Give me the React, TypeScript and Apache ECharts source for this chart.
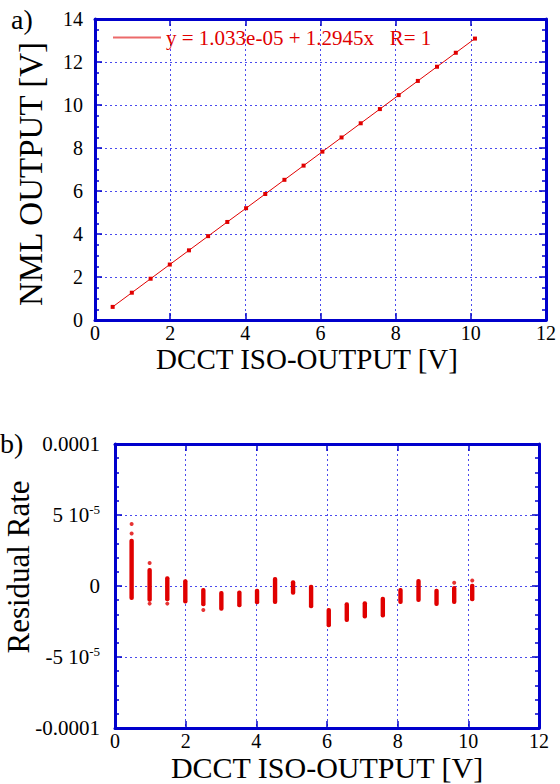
import React, { useEffect, useRef } from "react";
import * as echarts from "echarts";

// ---------- data ----------
const xValues = [0.47, 0.98, 1.48, 1.99, 2.5, 3.01, 3.52, 4.02, 4.53, 5.04, 5.55, 6.05, 6.56, 7.07, 7.58, 8.08, 8.59, 9.1, 9.6, 10.11];
const nmlOutput = [0.61, 1.27, 1.92, 2.58, 3.24, 3.9, 4.56, 5.2, 5.86, 6.52, 7.18, 7.83, 8.49, 9.15, 9.81, 10.46, 11.12, 11.78, 12.43, 13.09];
// residual cluster extents (lower / upper)
const residualLow = [-9.2e-6, -10.3e-6, -10.1e-6, -11.7e-6, -13.6e-6, -16.7e-6, -14.3e-6, -12.2e-6, -12.0e-6, -5.5e-6, -15.0e-6, -28.4e-6, -24.6e-6, -22.1e-6, -21.4e-6, -12.0e-6, -10.6e-6, -13.4e-6, -12.0e-6, -10.1e-6];
const residualHigh = [32.6e-6, 12.0e-6, 6.1e-6, 4.0e-6, -2.1e-6, -4.2e-6, -3.8e-6, -2.6e-6, 5.6e-6, 3.4e-6, 0.2e-6, -16.2e-6, -12.2e-6, -11.5e-6, -8.2e-6, -2.1e-6, 4.2e-6, -2.6e-6, -0.7e-6, 0.9e-6];
// isolated residual points
const outlierX = [0.47, 0.47, 0.98, 0.98, 1.48, 2.5, 9.6, 10.11];
const outlierY = [43.7e-6, 36.9e-6, 16.2e-6, -12.4e-6, -12.4e-6, -16.9e-6, 2.3e-6, 3.8e-6];
const fitLabel = "y = 1.033e-05 + 1.2945x\u00a0\u00a0\u00a0R= 1";
const residualTickLabels = ["{n|-0.0001}", "{n|-5 10}{sup|-5}", "{n|0}", "{n|5 10}{sup|-5}", "{n|0.0001}"];

const FONT = "Liberation Serif, Times New Roman, serif";
const AXIS = "#0000cc";
const GRID = "#4a4aee";
const RED = "#e00000";

function mainX(gridIndex: number, name: string, nameGap: number, pad: number[], nameSize: number, nameLH: number) {
  return {
    type: "value",
    gridIndex,
    min: 0,
    max: 12,
    interval: 2,
    position: "bottom",
    name,
    nameLocation: "middle",
    nameGap,
    nameMoveOverlap: false,
    nameTextStyle: { fontFamily: FONT, fontSize: nameSize, lineHeight: nameLH, color: "#000", padding: pad },
    axisLine: { show: true, onZero: false, lineStyle: { color: AXIS, width: 3 } },
    axisTick: { show: true, inside: true, length: 7, lineStyle: { color: AXIS, width: 1.5 } },
    axisLabel: { fontFamily: FONT, fontSize: 20, lineHeight: 20, color: "#000", margin: 3 },
    splitLine: { show: true, lineStyle: { color: GRID, width: 1, type: [2, 3] } },
  };
}
function topX(gridIndex: number) {
  return {
    type: "value",
    gridIndex,
    min: 0,
    max: 12,
    interval: 2,
    position: "top",
    axisLine: { show: true, onZero: false, lineStyle: { color: AXIS, width: 3 } },
    axisTick: { show: true, inside: true, length: 7, lineStyle: { color: AXIS, width: 1.5 } },
    axisLabel: { show: false },
    splitLine: { show: false },
  };
}

export default function App() {
  const ref = useRef<HTMLDivElement>(null);
  useEffect(() => {
    if (!ref.current) return;
    const chart = echarts.init(ref.current, null, { renderer: "svg" });
    const line = xValues.map((x, i) => [x, nmlOutput[i]]);
    const clusters = xValues.map((x, i) => [x, residualLow[i], residualHigh[i]]);
    const outliers = outlierX.map((x, i) => [x, outlierY[i]]);

    const yTopCommon = {
      type: "value",
      gridIndex: 0,
      min: 0,
      max: 14,
      interval: 2,
      axisLine: { show: true, onZero: false, lineStyle: { color: AXIS, width: 3 } },
      axisTick: { show: true, inside: true, length: 7, lineStyle: { color: AXIS, width: 1.5 } },
      minorTick: { show: true, splitNumber: 4, length: 4, lineStyle: { color: AXIS, width: 1.5 } },
    };
    const yBotCommon = {
      type: "value",
      gridIndex: 1,
      min: -0.0001,
      max: 0.0001,
      interval: 0.00005,
      axisLine: { show: true, onZero: false, lineStyle: { color: AXIS, width: 3 } },
      axisTick: { show: true, inside: true, length: 7, lineStyle: { color: AXIS, width: 1.5 } },
      minorTick: { show: true, splitNumber: 5, length: 4, lineStyle: { color: AXIS, width: 1.5 } },
    };

    chart.setOption({
      animation: false,
      backgroundColor: "#fff",
      grid: [
        { left: 95, top: 19, width: 451, height: 301, containLabel: false, outerBoundsMode: "none" },
        { left: 115, top: 444, width: 424, height: 284, containLabel: false, outerBoundsMode: "none" },
      ],
      legend: {
        left: 113,
        top: 27,
        padding: 0,
        itemWidth: 48,
        itemHeight: 2,
        data: [{ name: fitLabel, icon: "rect", itemStyle: { color: "#ec6a6a" } }],
        textStyle: { fontFamily: FONT, fontSize: 21, color: RED },
      },
      xAxis: [
        mainX(0, "DCCT ISO-OUTPUT [V]", 24, [0, 27, 0, 0], 29, 29),
        topX(0),
        mainX(1, "DCCT ISO-OUTPUT [V]", 25, [0, 0, 0, 0], 30, 28),
        topX(1),
      ],
      yAxis: [
        {
          ...yTopCommon,
          position: "left",
          name: "NML OUTPUT [V]",
          nameLocation: "middle",
          nameGap: 48,
          nameMoveOverlap: false,
          nameTextStyle: { fontFamily: FONT, fontSize: 33, color: "#000", padding: [0, 9, 0, 0] },
          axisLabel: { fontFamily: FONT, fontSize: 20, color: "#000", margin: 12 },
          splitLine: { show: true, lineStyle: { color: GRID, width: 1, type: [2, 3] } },
        },
        { ...yTopCommon, position: "right", axisLabel: { show: false }, splitLine: { show: false } },
        {
          ...yBotCommon,
          position: "left",
          name: "Residual Rate",
          nameLocation: "middle",
          nameGap: 81,
          nameMoveOverlap: false,
          nameTextStyle: { fontFamily: FONT, fontSize: 31, color: "#000", padding: [0, 0, 0, 38] },
          axisLabel: {
            fontFamily: FONT,
            fontSize: 20,
            color: "#000",
            margin: 15,
            formatter: (v: number) => residualTickLabels[Math.round(v / 0.00005) + 2],
            rich: {
              n: { fontFamily: FONT, fontSize: 21, color: "#000", lineHeight: 24 },
              sup: { fontFamily: FONT, fontSize: 13, color: "#000", lineHeight: 14, verticalAlign: "top" },
            },
          },
          splitLine: { show: true, lineStyle: { color: GRID, width: 1, type: [2, 3] } },
        },
        { ...yBotCommon, position: "right", axisLabel: { show: false }, splitLine: { show: false } },
      ],
      graphic: [
        { type: "text", left: 11, top: 5, style: { text: "a)", fontFamily: FONT, fontSize: 28, fill: "#000" } },
        { type: "text", left: 0, top: 429, style: { text: "b)", fontFamily: FONT, fontSize: 28, fill: "#000" } },
      ],
      series: [
        {
          name: fitLabel,
          type: "line",
          xAxisIndex: 0,
          yAxisIndex: 0,
          data: line,
          symbol: "rect",
          symbolSize: 4,
          itemStyle: { color: RED },
          lineStyle: { color: RED, width: 1 },
        },
        {
          type: "custom",
          xAxisIndex: 2,
          yAxisIndex: 2,
          data: clusters,
          renderItem: (params: any, api: any) => {
            const top = api.coord([api.value(0), api.value(2)]);
            const bot = api.coord([api.value(0), api.value(1)]);
            const w = 4.4;
            return {
              type: "rect",
              shape: { x: top[0] - w / 2, y: top[1] - 1, width: w, height: bot[1] - top[1] + 2, r: 2 },
              style: { fill: RED },
            };
          },
        },
        {
          type: "scatter",
          xAxisIndex: 2,
          yAxisIndex: 2,
          data: outliers,
          symbol: "circle",
          symbolSize: 4,
          itemStyle: { color: RED },
        },
      ],
    });
    return () => chart.dispose();
  }, []);
  return <div ref={ref} style={{ position: "absolute", left: 0, top: 0, width: 560, height: 784 }} />;
}
